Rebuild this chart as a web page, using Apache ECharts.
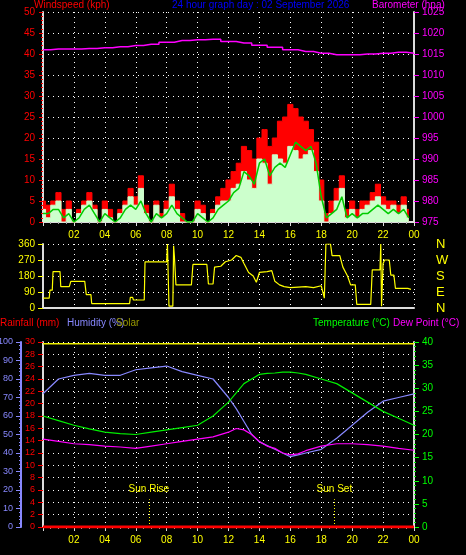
<!DOCTYPE html>
<html><head><meta charset="utf-8">
<script src="https://cdn.jsdelivr.net/npm/echarts@6/dist/echarts.min.js"></script>
<style>html,body{margin:0;background:#000}#c{width:466px;height:555px}</style>
</head><body><div id="c"></div>
<script>
const gust=[5,4,5,7,3,5,0,3,5,7,4,0,5,3,0,3,5,8,6,11,4,0,5,2,5,9,5,2,0,0,5,4,0,3,6,8,10,12,14,18,17,15,20,22,18,20,24,25,28,27,25,24,22,19,10,2,5,8,11,3,5,3,5,5,7,9,6,5,5,4,6,3];
const avgWind=[2,2,3,3,1,2,0,1,3,4,2,0,2,1,0,1,3,4,3,5,2,0,2,1,2,4,2,1,0,0,2,1,0,1,3,4,5,7,8,12,11,9,14,15,11,13,14,13,16,19,18,17,18,14,6,1,2,3,6,1,2,1,2,2,3,4,3,2,3,2,3,1];
const speed=[3,1,4,5,0,3,0,2,4,5,3,0,3,1,0,2,4,6,4,8,2,0,4,1,3,6,3,0,0,0,3,2,0,2,4,5,5,8,9,12,10,8,15,14,9,16,15,14,18,17,15,16,17,12,5,0,2,5,8,1,3,1,3,4,5,6,4,3,4,2,4,1];
const baroHours=[0,1,2,3,4,5,6,7,8,9,10,11,12,13,14,15,16,17,18,19,20,21,22,23,24];
const baro=[1016,1016.2,1016.2,1016.3,1016.5,1016.7,1017,1017.3,1017.8,1018.2,1018.4,1018.5,1018,1017.6,1017.1,1016.6,1016,1015.6,1015.2,1014.8,1014.8,1015,1015.2,1015.4,1015.2];
const dirPts=[[0,55],[0.4,55],[0.45,100],[0.6,100],[0.65,205],[1.1,205],[1.15,120],[1.7,120],[1.8,150],[2.7,150],[2.8,75],[3.1,75],[3.15,25],[5.6,25],[5.65,60],[5.8,60],[5.85,45],[6.55,45],[6.6,260],[8.0,260],[8.05,360],[8.1,180],[8.15,10],[8.4,10],[8.45,350],[8.5,290],[8.6,130],[9.6,130],[9.7,245],[10.6,245],[10.7,135],[11.0,135],[11.1,230],[11.5,235],[11.8,260],[12.2,270],[12.5,295],[12.8,285],[13.0,250],[13.3,200],[13.6,180],[13.8,145],[14.0,200],[14.5,205],[14.8,210],[15.0,150],[15.3,130],[15.6,120],[16,115],[17,120],[17.5,115],[18.0,125],[18.2,55],[18.3,360],[18.6,360],[18.7,295],[19.2,295],[19.4,230],[19.7,180],[19.9,130],[20.2,130],[20.3,20],[21.2,20],[21.3,215],[21.8,215],[21.85,360],[21.9,10],[22.0,250],[22.1,270],[22.4,270],[22.5,185],[22.7,185],[22.8,110],[23.6,110],[23.8,105]];
const hours=[0,1,2,3,4,5,6,7,8,9,10,11,12,12.5,13,13.5,14,14.5,15,15.5,16,16.5,17,18,19,20,21,22,23,24];
const humidity=[72,80,82,83,82,82,85,86,87,84,82,80,70,64,57,50,46,44,42,40,38,39,40,42,48,55,62,68,70,72];
const temperature=[24,23,22,21.2,20.5,20.2,20,20.5,21,21.5,22,24,27,29,31,32,33,33.2,33.3,33.5,33.5,33.3,33,32,31,29,27,25,23.5,22];
const dewPoint=[19,18.5,18,17.8,17.5,17.3,17,17.5,18,18.5,19,19.5,20.5,21.3,21,20,18.5,17.5,17,16,15.6,15.8,16.5,17.5,18,18,17.8,17.5,17,16.6];
const rainfall=[[0,0],[24,0]];
const solar=[[0,99],[24,99]];
const sunRise=6.85, sunSet=18.85;

const t20=i=>i/3;
const pair=(arr,f)=>arr.map((v,i)=>[f(i),v]);
const grid='#ddd';
const FONT='Liberation Sans';
const split={show:true,lineStyle:{color:'#fff',type:[1,4],width:1}};
const xBase=(gi,show)=>({type:'value',gridIndex:gi,min:0,max:24,interval:2,
  axisLine:{show:true,lineStyle:{color:grid,width:2}},
  axisTick:{show:show,length:4,lineStyle:{color:'#ddd'}},
  minorTick:{show:show,splitNumber:4,length:2,lineStyle:{color:'#aaa'}},
  axisLabel:{show:show,color:'#ff0',fontSize:10,fontFamily:FONT,formatter:v=>v===0?'':String(v%24).padStart(2,'0')},
  splitLine:split});
const yAx=(gi,o)=>Object.assign({type:'value',gridIndex:gi,axisLine:{show:true,lineStyle:{width:2}},
  axisTick:{show:true,length:4},splitLine:{show:false},
  axisLabel:{fontSize:10,fontFamily:FONT}},o);
const ch=echarts.init(document.getElementById('c'));
const sunLine=(x,name)=>[{coord:[x,0],name:name},{coord:[x,4.5]}];
const txt=(x,y,s,c)=>({type:'text',left:x,top:y,style:{text:s,fill:c,font:'10px '+FONT}});
const G=(top,h)=>({left:43,right:52,top:top,height:h,outerBoundsMode:'none',containLabel:false});
ch.setOption({
  backgroundColor:'#000',animation:false,
  grid:[G(12,210),G(244,64),G(342,185)],
  xAxis:[xBase(0,true),xBase(1,false),xBase(2,true)],
  yAxis:[
    yAx(0,{min:0,max:50,interval:5,position:'left',axisLine:{show:true,lineStyle:{color:grid,width:2}},axisTick:{length:4,lineStyle:{color:'#f00'}},minorTick:{show:true,splitNumber:5,length:2,lineStyle:{color:'#f00'}},axisLabel:{color:'#f00',fontSize:10,fontFamily:FONT},splitLine:split}),
    yAx(0,{min:975,max:1025,interval:5,position:'right',axisLine:{show:true,lineStyle:{color:grid,width:2}},axisTick:{lineStyle:{color:'#f0f'}},axisLabel:{color:'#f0f',fontSize:10,fontFamily:FONT,formatter:v=>String(v)}}),
    yAx(1,{min:0,max:360,interval:90,position:'left',axisLine:{show:true,lineStyle:{color:grid,width:2}},axisTick:{lineStyle:{color:'#ff0'}},axisLabel:{color:'#ff0',fontSize:10,fontFamily:FONT},splitLine:split}),
    yAx(1,{min:0,max:360,interval:90,position:'right',offset:14,axisLine:{show:false},axisTick:{show:false},axisLabel:{color:'#ff0',fontSize:13,fontFamily:FONT,formatter:v=>({0:'N',90:'E',180:'S',270:'W',360:'N'})[v]}}),
    yAx(2,{min:0,max:30,interval:2,position:'left',axisLine:{show:true,lineStyle:{color:grid,width:2}},axisTick:{lineStyle:{color:'#f00'}},axisLabel:{color:'#f00',fontSize:9,fontFamily:FONT},splitLine:{show:true,lineStyle:{color:'#fff',type:[1,4]}}}),
    yAx(2,{min:0,max:100,interval:10,position:'left',offset:22,axisLine:{show:true,lineStyle:{color:'#88f',width:2}},axisTick:{lineStyle:{color:'#88f'}},minorTick:{show:true,splitNumber:5,length:2,lineStyle:{color:'#88f'}},axisLabel:{color:'#88f',fontSize:9,fontFamily:FONT}}),
    yAx(2,{min:0,max:40,interval:5,position:'right',axisLine:{show:true,lineStyle:{color:grid,width:2}},axisTick:{lineStyle:{color:'#0f0'}},minorTick:{show:true,splitNumber:5,length:2,lineStyle:{color:'#0f0'}},axisLabel:{color:'#0f0',fontSize:10,fontFamily:FONT}})
  ],
  series:[
    {type:'line',xAxisIndex:0,yAxisIndex:0,step:'middle',data:pair(gust,t20),symbol:'none',z:2,lineStyle:{color:'#f00',width:1},areaStyle:{color:'#f00',opacity:1}},
    {type:'line',xAxisIndex:0,yAxisIndex:0,step:'middle',data:pair(speed,t20),symbol:'none',z:5,lineStyle:{color:'#cfc',width:1},areaStyle:{color:'#cfc',opacity:1}},
    {type:'line',xAxisIndex:0,yAxisIndex:0,data:pair(avgWind,t20),symbol:'none',z:6,lineStyle:{color:'#0c0',width:1.5}},
    {type:'line',xAxisIndex:0,yAxisIndex:1,data:baroHours.map((h,i)=>[h,baro[i]]),symbol:'none',step:'middle',z:6,lineStyle:{color:'#f0f',width:1.5}},
    {type:'line',xAxisIndex:1,yAxisIndex:2,data:dirPts,symbol:'none',lineStyle:{color:'#ff0',width:1.2}},
    {type:'line',xAxisIndex:2,yAxisIndex:4,data:rainfall,symbol:'none',z:6,lineStyle:{color:'#f00',width:3},
      markLine:{symbol:'none',silent:true,data:[sunLine(sunRise,'Sun Rise'),sunLine(sunSet,'Sun Set')],lineStyle:{color:'#ff0',type:[1,2],width:1},
        label:{show:true,position:'end',color:'#ff0',fontSize:10,fontFamily:FONT,formatter:'{b}'}}},
    {type:'line',xAxisIndex:2,yAxisIndex:5,data:solar,symbol:'none',lineStyle:{color:'#ee0',width:1.5}},
    {type:'line',xAxisIndex:2,yAxisIndex:5,data:hours.map((h,i)=>[h,humidity[i]]),symbol:'none',lineStyle:{color:'#88f',width:1.2}},
    {type:'line',xAxisIndex:2,yAxisIndex:6,data:hours.map((h,i)=>[h,temperature[i]]),symbol:'none',lineStyle:{color:'#0e0',width:1.2}},
    {type:'line',xAxisIndex:2,yAxisIndex:6,data:hours.map((h,i)=>[h,dewPoint[i]]),symbol:'none',lineStyle:{color:'#f0f',width:1.2}}
  ],
  graphic:[
    txt(34,0,'Windspeed (kph)','#f00'),
    txt(172,0,'24 hour graph day : 02 September 2026','#00f'),
    txt(372,0,'Barometer (hpa)','#f0f'),
    txt(0,318,'Rainfall (mm)','#f00'),
    txt(67,318,'Humidity (%)','#88f'),
    txt(116,318,'Solar','#990'),
    txt(313,318,'Temperature (°C)','#0f0'),
    txt(393,318,'Dew Point (°C)','#f0f')
  ]
});
</script></body></html>
